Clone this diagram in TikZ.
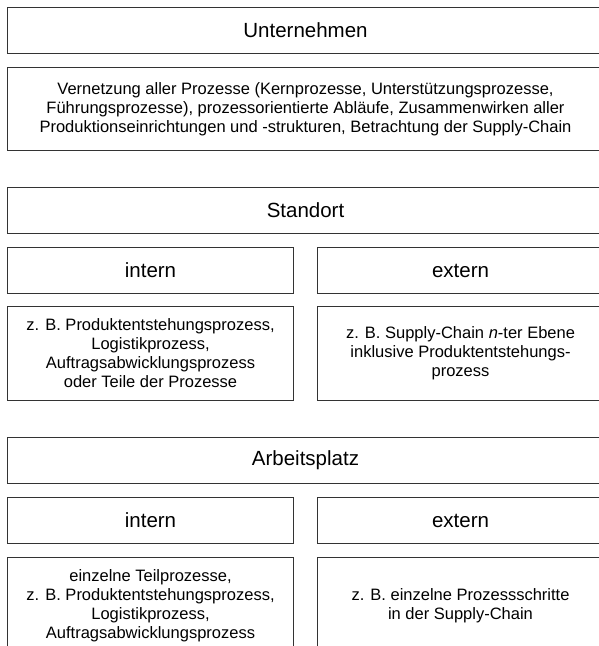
\documentclass[tikz,border=0pt]{standalone}
\usepackage{fontspec}
\setmainfont{Liberation Sans}
\usepackage{tikz}
\usetikzlibrary{positioning}
\newcommand{\titlefont}{\fontsize{20.5}{24}\selectfont}
\newcommand{\bodyfont}{\fontsize{16.5}{19}\selectfont}

\begin{document}
\begin{tikzpicture}[
    x=1pt, y=-1pt,
    node distance=13pt and 23pt,
    level/.style={draw=black!80, line width=1.3pt, inner sep=0pt, minimum width=#1, minimum height=45.7pt, font=\titlefont},
    detail/.style={draw=black!80, line width=1.3pt, inner sep=0pt, minimum width=#1, minimum height=93.7pt, align=center, font=\bodyfont}
]
\useasboundingbox (0,0) rectangle (599,646);

% Unternehmen
\node[level=595.7pt] (Unternehmen) at (305.5,30.5) {Unternehmen};
\node[detail=595.7pt, minimum height=82.7pt, below=of Unternehmen] (UnternehmenText) {
    Vernetzung aller Prozesse (Kernprozesse, Unterstützungsprozesse,\\
    Führungsprozesse), prozessorientierte Abläufe, Zusammenwirken aller\\
    Produktionseinrichtungen und -strukturen, Betrachtung der Supply-Chain
};

% Standort
\node[level=595.7pt, below=36pt of UnternehmenText] (Standort) {Standort};
\node[level=285.7pt, below=of Standort.south west, anchor=north west] (StandortIntern) {intern};
\node[level=285.7pt, right=of StandortIntern] (StandortExtern) {extern};
\node[detail=285.7pt, below=12pt of StandortIntern] (StandortInternText) {
    z. B. Produktentstehungsprozess,\\
    Logistikprozess,\\
    Auftragsabwicklungsprozess\\
    oder Teile der Prozesse
};
\node[detail=285.7pt, below=12pt of StandortExtern] (StandortExternText) {
    z. B. Supply-Chain \textit{n}-ter Ebene\\
    inklusive Produktentstehungs-\\
    prozess
};

% Arbeitsplatz
\node[level=595.7pt, below=36pt of StandortInternText.south west, anchor=north west] (Arbeitsplatz) {Arbeitsplatz};
\node[level=285.7pt, below=of Arbeitsplatz.south west, anchor=north west] (ArbeitsplatzIntern) {intern};
\node[level=285.7pt, right=of ArbeitsplatzIntern] (ArbeitsplatzExtern) {extern};
\node[detail=285.7pt, minimum height=96pt, below=of ArbeitsplatzIntern] (ArbeitsplatzInternText) {
    einzelne Teilprozesse,\\
    z. B. Produktentstehungsprozess,\\
    Logistikprozess,\\
    Auftragsabwicklungsprozess
};
\node[detail=285.7pt, minimum height=96pt, below=of ArbeitsplatzExtern] (ArbeitsplatzExternText) {
    z. B. einzelne Prozessschritte\\
    in der Supply-Chain
};

\end{tikzpicture}
\end{document}
